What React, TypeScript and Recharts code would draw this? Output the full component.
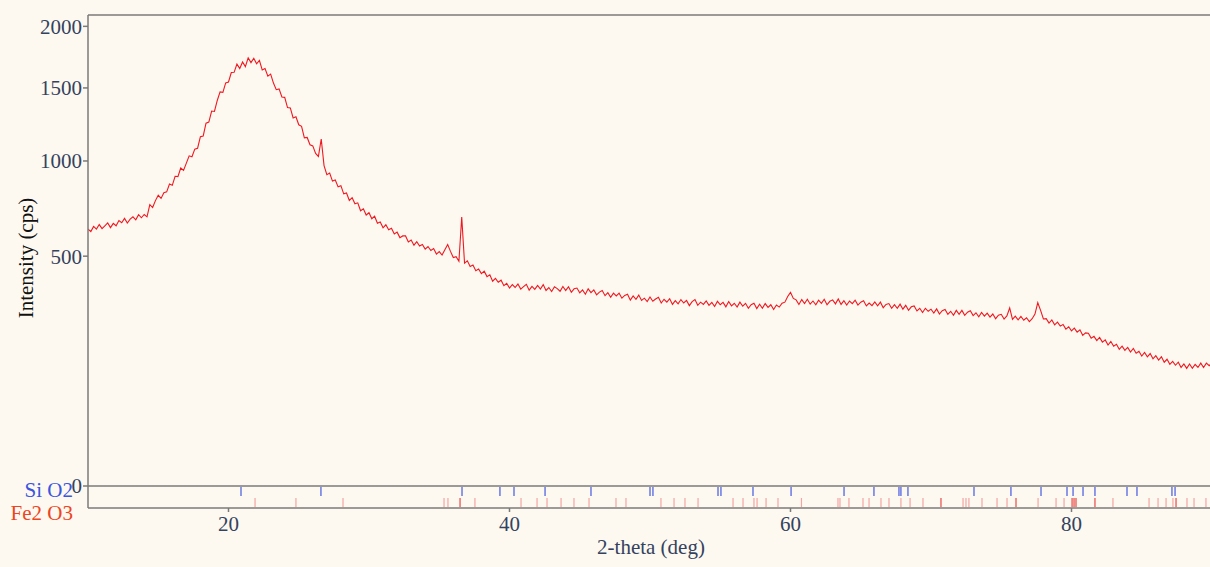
import React from 'react';
import {
  LineChart,
  Line,
  XAxis,
  YAxis,
  ReferenceLine,
  ScatterChart,
  Scatter,
} from 'recharts';

// ---- data ----
const angleStart = 10;
const angleStep = 0.2;
// intensity (cps), one value every 0.2 deg from 10 to 90
const counts = [
  625, 613, 638, 625, 647, 627, 641, 655, 632, 653,
  641, 667, 656, 678, 655, 674, 686, 671, 697, 681,
  698, 686, 750, 734, 771, 800, 783, 814, 819, 863,
  856, 908, 906, 957, 943, 987, 1032, 1026, 1074, 1080,
  1155, 1160, 1246, 1254, 1331, 1328, 1407, 1470, 1467, 1538,
  1545, 1618, 1620, 1685, 1650, 1702, 1665, 1736, 1697, 1732,
  1687, 1715, 1638, 1650, 1590, 1606, 1537, 1487, 1493, 1433,
  1430, 1356, 1353, 1282, 1290, 1235, 1225, 1147, 1150, 1102,
  1095, 1047, 1028, 1140, 972, 917, 927, 880, 886, 847,
  854, 808, 813, 772, 787, 754, 759, 717, 727, 695,
  707, 676, 689, 654, 660, 631, 646, 622, 629, 601,
  610, 584, 592, 592, 564, 573, 549, 565, 545, 552,
  531, 543, 525, 534, 509, 520, 505, 528, 552, 521,
  494, 498, 478, 685, 470, 480, 456, 462, 439, 446,
  427, 437, 415, 422, 397, 408, 393, 401, 380, 389,
  371, 384, 373, 386, 367, 376, 385, 363, 377, 366,
  381, 367, 384, 362, 373, 358, 376, 369, 359, 377,
  362, 376, 355, 368, 371, 353, 364, 348, 368, 354,
  364, 346, 356, 362, 343, 354, 337, 352, 342, 352,
  334, 344, 348, 327, 342, 330, 345, 326, 334, 322,
  338, 323, 331, 337, 317, 330, 320, 332, 312, 325,
  314, 329, 317, 326, 308, 322, 329, 309, 320, 312,
  324, 309, 319, 305, 323, 311, 319, 304, 322, 307,
  316, 303, 320, 306, 316, 299, 311, 316, 298, 313,
  299, 315, 302, 311, 295, 310, 303, 316, 320, 340,
  355, 333, 328, 312, 329, 315, 330, 313, 324, 311,
  327, 316, 330, 311, 323, 328, 314, 331, 312, 325,
  310, 324, 315, 327, 310, 320, 325, 307, 317, 308,
  321, 307, 320, 301, 312, 315, 299, 311, 299, 313,
  296, 309, 292, 304, 307, 290, 299, 285, 299, 289,
  296, 283, 297, 280, 291, 295, 279, 289, 276, 292,
  279, 292, 276, 286, 291, 275, 284, 271, 285, 273,
  283, 270, 280, 265, 276, 279, 264, 274, 300, 263,
  273, 261, 272, 260, 268, 256, 265, 280, 318, 292,
  264, 265, 251, 261, 246, 254, 242, 247, 233, 240,
  228, 236, 224, 231, 215, 222, 221, 207, 212, 200,
  209, 196, 202, 188, 198, 185, 190, 177, 185, 174,
  182, 170, 179, 167, 172, 160, 169, 158, 166, 153,
  161, 150, 158, 145, 152, 140, 147, 138, 145, 133,
  141, 131, 141, 131, 140, 133, 143, 133, 143, 137,
  144,
];

// reference line positions (2-theta, deg)
const siO2Lines = [
  20.89, 26.58, 36.62, 39.32, 40.32, 42.53, 45.8, 50.0, 50.21, 54.84, 55.05,
  57.33, 60.04, 63.81, 65.94, 67.72, 67.86, 68.36, 73.06, 75.69, 77.83, 79.68,
  80.11, 80.82, 81.67, 83.95, 84.66, 87.15, 87.37,
];
const fe2o3Lines = [
  21.89, 24.8, 28.15, 35.34, 35.62, 37.54, 40.82, 41.96, 42.67, 43.67, 44.59,
  45.66, 47.58, 48.29, 50.78, 51.71, 52.49, 53.42, 55.91, 56.62, 57.4, 57.62,
  58.26, 59.11, 60.78, 63.38, 63.52, 64.16, 65.16, 65.59, 66.44, 67.01, 67.86,
  68.51, 69.43, 72.28, 72.49, 72.7, 73.63, 74.7, 75.41, 77.62, 78.9, 79.47,
  82.95, 85.52, 86.16, 86.73, 87.22, 88.22, 88.72, 89.57,
];
const fe2o3StrongLines = [36.48, 70.71, 76.05, 80.04, 80.18, 80.32, 81.67, 87.44];

const yTicks = [0, 500, 1000, 1500, 2000];
const xTicks = [20, 40, 60, 80];
const phaseNames = ['Fe2 O3', 'Si O2'];

// ---- layout / style ----
const FONT = "'Liberation Serif', 'Times New Roman', serif";
const FS = 21;
const BG = '#fdf9f0';
const AXIS = '#7a7a7a';
const TICK_TEXT = '#34425e';
const W = 1212;
const STRIP_TOP = 476;

const pattern = counts.map((c, i) => ({
  t: Math.round((angleStart + i * angleStep) * 10) / 10,
  c,
}));
const siData = siO2Lines.map((x) => ({ x, y: 1.5 }));
const feData = fe2o3Lines.map((x) => ({ x, y: 0.5 }));
const feStrongData = fe2o3StrongLines.map((x) => ({ x, y: 0.5 }));

const makeStick = (color: string) => (props: any) => {
  const { cx, cy } = props;
  return <line x1={cx} x2={cx} y1={cy - 4.5} y2={cy + 4.5} stroke={color} strokeWidth={1.2} />;
};

const PhaseTick = (props: any) => {
  const { y, payload } = props;
  const isSi = payload.value > 1;
  return (
    <text
      x={73}
      y={isSi ? y - 2 : y + 10}
      dy="0.35em"
      textAnchor="end"
      fill={isSi ? '#3a55e0' : '#ee4422'}
      fontSize={FS}
      fontFamily={FONT}
    >
      {isSi ? phaseNames[1] : phaseNames[0]}
    </text>
  );
};

export default function App() {
  return (
    <div
      style={{
        position: 'absolute',
        left: 0,
        top: 0,
        width: 1210,
        height: 567,
        background: BG,
        overflow: 'hidden',
        fontFamily: FONT,
      }}
    >
      <div style={{ position: 'absolute', left: 0, top: 0 }}>
        <LineChart
          width={W}
          height={500}
          data={pattern}
          margin={{ top: 15, right: 0, bottom: 14, left: 0 }}
        >
          <XAxis dataKey="t" type="number" domain={[10, 90]} hide allowDataOverflow />
          <YAxis
            type="number"
            scale="sqrt"
            domain={[0, 2100]}
            ticks={yTicks}
            width={88}
            allowDataOverflow
            interval={0}
            tickSize={5}
            tickMargin={1}
            stroke={AXIS}
            strokeWidth={1.5}
            tick={{ fill: TICK_TEXT, fontSize: FS, fontFamily: FONT }}
            label={() => (
              <text
                x={26}
                y={258}
                transform="rotate(-90 26 258)"
                textAnchor="middle"
                dominantBaseline="central"
                fill="#111"
                fontSize={FS}
                fontFamily={FONT}
              >
                Intensity (cps)
              </text>
            )}
          />
          <ReferenceLine y={2100} stroke={AXIS} strokeWidth={1.5} />
          <ReferenceLine y={0} stroke={AXIS} strokeWidth={1.5} />
          <Line
            type="linear"
            dataKey="c"
            stroke="#f01820"
            strokeWidth={1.1}
            dot={false}
            isAnimationActive={false}
          />
        </LineChart>
      </div>
      <div style={{ position: 'absolute', left: 0, top: STRIP_TOP }}>
        <ScatterChart
          width={W}
          height={567 - STRIP_TOP}
          margin={{ top: 10, right: 0, bottom: 0, left: 0 }}
        >
          <XAxis
            dataKey="x"
            type="number"
            domain={[10, 90]}
            ticks={xTicks}
            interval={0}
            height={59}
            tickSize={4}
            tickMargin={4}
            stroke={AXIS}
            strokeWidth={1.5}
            allowDataOverflow
            tick={{ fill: TICK_TEXT, fontSize: FS, fontFamily: FONT }}
            label={() => (
              <text
                x={651}
                y={547 - STRIP_TOP}
                textAnchor="middle"
                dominantBaseline="central"
                fill={TICK_TEXT}
                fontSize={FS}
                fontFamily={FONT}
              >
                2-theta (deg)
              </text>
            )}
          />
          <YAxis
            dataKey="y"
            type="number"
            domain={[0, 2]}
            ticks={[0.5, 1.5]}
            interval={0}
            width={88}
            tickLine={false}
            stroke={AXIS}
            strokeWidth={1.5}
            tick={<PhaseTick />}
          />
          <Scatter data={feData} shape={makeStick('#f4a4a4')} isAnimationActive={false} />
          <Scatter data={feStrongData} shape={makeStick('#e84848')} isAnimationActive={false} />
          <Scatter data={siData} shape={makeStick('#4458e0')} isAnimationActive={false} />
        </ScatterChart>
      </div>
    </div>
  );
}
